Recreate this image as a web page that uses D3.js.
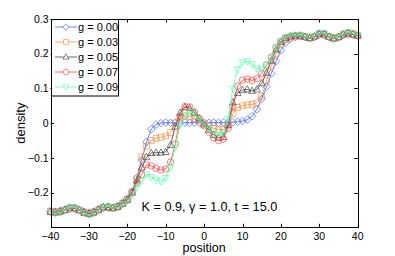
<!DOCTYPE html>
<html><head><meta charset="utf-8">
<script src="https://cdn.jsdelivr.net/npm/d3@7"></script>
<style>body{margin:0;background:#fff}svg{display:block}text{font-family:"Liberation Sans",Arial,Helvetica,sans-serif;fill:#000}</style>
</head><body><svg id="c" width="395" height="256"></svg>
<script>
const position = [-40,-38.75,-37.5,-36.25,-35,-33.75,-32.5,-31.25,-30,-28.75,-27.5,-26.25,-25,-23.75,-22.5,-21.25,-20,-18.75,-17.5,-16.25,-15,-13.75,-12.5,-11.25,-10,-8.75,-7.5,-6.25,-5,-3.75,-2.5,-1.25,0,1.25,2.5,3.75,5,6.25,7.5,8.75,10,11.25,12.5,13.75,15,16.25,17.5,18.75,20,21.25,22.5,23.75,25,26.25,27.5,28.75,30,31.25,32.5,33.75,35,36.25,37.5,38.75,40];
const g000 = [-0.254,-0.255,-0.253,-0.249,-0.246,-0.246,-0.25,-0.255,-0.258,-0.255,-0.249,-0.244,-0.243,-0.244,-0.239,-0.229,
 -0.217,-0.197,-0.158,-0.106,-0.054,-0.017,-0.004,0.0,0.002,0.001,0.002,0.001,0.002,0.001,0.002,0.001,
 0.002,0.001,0.002,0.001,0.002,0.002,0.003,0.004,0.006,0.01,0.02,0.04,0.07,0.105,0.143,0.178,
 0.21,0.232,0.243,0.248,0.25,0.248,0.245,0.248,0.254,0.254,0.248,0.244,0.247,0.253,0.257,0.255,0.251];
const g003 = [-0.253,-0.256,-0.255,-0.25,-0.245,-0.245,-0.25,-0.257,-0.26,-0.256,-0.25,-0.243,-0.242,-0.244,-0.24,-0.231,
 -0.219,-0.199,-0.16,-0.097,-0.066,-0.05,-0.044,-0.041,-0.037,-0.027,0.0,0.016,0.021,0.019,0.013,0.006,
 -0.002,-0.009,-0.015,-0.019,-0.018,-0.006,0.027,0.045,0.05,0.053,0.054,0.058,0.078,0.122,0.165,0.2,
 0.228,0.241,0.247,0.25,0.252,0.249,0.246,0.25,0.257,0.256,0.249,0.245,0.248,0.255,0.259,0.256,0.252];
const g005 = [-0.256,-0.257,-0.254,-0.25,-0.244,-0.245,-0.251,-0.258,-0.261,-0.257,-0.249,-0.242,-0.242,-0.245,-0.241,-0.232,
 -0.221,-0.2,-0.165,-0.128,-0.098,-0.086,-0.085,-0.085,-0.083,-0.063,-0.01,0.03,0.046,0.043,0.03,0.014,
 -0.004,-0.02,-0.034,-0.042,-0.04,-0.005,0.06,0.087,0.095,0.097,0.093,0.097,0.115,0.145,0.18,0.212,
 0.234,0.245,0.25,0.252,0.252,0.249,0.245,0.25,0.258,0.257,0.249,0.244,0.248,0.256,0.26,0.256,0.252];
const g007 = [-0.255,-0.258,-0.256,-0.25,-0.244,-0.244,-0.25,-0.258,-0.262,-0.258,-0.25,-0.242,-0.241,-0.244,-0.242,-0.233,
 -0.222,-0.201,-0.173,-0.148,-0.12,-0.123,-0.13,-0.135,-0.132,-0.112,-0.06,0.02,0.048,0.047,0.032,0.013,
 -0.008,-0.026,-0.042,-0.05,-0.046,-0.015,0.048,0.107,0.124,0.127,0.123,0.128,0.143,0.168,0.19,0.218,
 0.236,0.246,0.25,0.252,0.253,0.249,0.245,0.25,0.258,0.257,0.249,0.244,0.248,0.256,0.26,0.257,0.252];
const g009 = [-0.257,-0.26,-0.257,-0.25,-0.243,-0.243,-0.25,-0.259,-0.264,-0.26,-0.251,-0.242,-0.24,-0.244,-0.243,-0.234,
 -0.224,-0.205,-0.184,-0.165,-0.147,-0.155,-0.164,-0.168,-0.158,-0.128,-0.068,-0.005,0.024,0.033,0.026,0.012,
 -0.004,-0.018,-0.03,-0.034,-0.028,0.012,0.1,0.155,0.175,0.178,0.17,0.158,0.155,0.167,0.188,0.218,
 0.237,0.247,0.252,0.254,0.254,0.25,0.245,0.251,0.26,0.259,0.25,0.243,0.248,0.257,0.262,0.258,0.253];
const seriesLabels = ["g = 0.00","g = 0.03","g = 0.05","g = 0.07","g = 0.09"];
const seriesValues = [g000,g003,g005,g007,g009];
const xTicks = [-40,-30,-20,-10,0,10,20,30,40];
const xTickLabels = ["\u221240","\u221230","\u221220","\u221210","0","10","20","30","40"];
const yTicks = [-0.2,-0.1,0,0.1,0.2,0.3];
const yTickLabels = ["\u22120.2","\u22120.1","0","0.1","0.2","0.3"];
const annotation = "K = 0.9, \u03b3 = 1.0, t = 15.0";

const colors = ["#3358ff","#f28a3a","#3a3a3a","#ff3535","#4dffa6"];
const shapes = ["diamond","square","triUp","circle","triDown"];

function markerPath(type){
  switch(type){
    case "diamond": return "M0,-3.8L3.8,0L0,3.8L-3.8,0Z";
    case "square": return "M-2.9,-2.9H2.9V2.9H-2.9Z";
    case "triUp": return "M0,-3.8L3.4,2.5L-3.4,2.5Z";
    case "triDown": return "M0,3.8L3.4,-2.5L-3.4,-2.5Z";
    case "circle": return "M3.2,0A3.2,3.2 0 1,1 -3.2,0A3.2,3.2 0 1,1 3.2,0Z";
  }
}

const svg = d3.select("#c");
const L=50.5, R=357.7, T=19, B=227.3;
const x = d3.scaleLinear().domain([-40,40]).range([L,R]);
const y = d3.scaleLinear().domain([-0.3,0.3]).range([B,T]);

const plot = svg.append("g");
const line = d3.line().x((d,i)=>x(position[i])).y(d=>y(d));
seriesValues.forEach((vals,k)=>{
  const g = plot.append("g");
  g.append("path").attr("d",line(vals)).attr("fill","none")
    .attr("stroke",colors[k]).attr("stroke-width",1).attr("stroke-opacity",0.75);
  g.selectAll("path.m").data(vals).enter().append("path").attr("class","m")
    .attr("d",markerPath(shapes[k]))
    .attr("transform",(d,i)=>`translate(${x(position[i])},${y(d)})`)
    .attr("fill","none").attr("stroke",colors[k]).attr("stroke-width",0.9).attr("stroke-opacity",0.7);
});

// frame
svg.append("rect").attr("x",Math.round(L)+0.5).attr("y",T+0.5).attr("width",Math.round(R)-Math.round(L)).attr("height",Math.round(B)-T)
  .attr("fill","none").attr("stroke","#000").attr("stroke-width",1);

// ticks
const tk=3.5;
xTicks.forEach((t,i)=>{
  const px = Math.round(x(t))+0.5;
  svg.append("line").attr("x1",px).attr("x2",px).attr("y1",B).attr("y2",B-tk).attr("stroke","#000");
  svg.append("line").attr("x1",px).attr("x2",px).attr("y1",T).attr("y2",T+tk).attr("stroke","#000");
  svg.append("text").attr("x",x(t)).attr("y",239.5).attr("text-anchor","middle").attr("font-size",10.5).text(xTickLabels[i]);
});
yTicks.forEach((t,i)=>{
  const py = Math.round(y(t))+0.5;
  svg.append("line").attr("x1",L).attr("x2",L+tk).attr("y1",py).attr("y2",py).attr("stroke","#000");
  svg.append("line").attr("x1",R).attr("x2",R-tk).attr("y1",py).attr("y2",py).attr("stroke","#000");
  svg.append("text").attr("x",48.5).attr("y",y(t)+3.7).attr("text-anchor","end").attr("font-size",10.5).text(yTickLabels[i]);
});

// axis labels
svg.append("text").attr("x",x(0)).attr("y",251.5).attr("text-anchor","middle").attr("font-size",12.5).text("position");
svg.append("text").attr("transform",`translate(24.5,${y(0)}) rotate(-90)`).attr("text-anchor","middle").attr("font-size",13).text("density");

// annotation
svg.append("text").attr("x",141.5).attr("y",211).attr("font-size",12.7).text(annotation);

// legend
const lg = svg.append("g");
lg.append("rect").attr("x",51.5).attr("y",19.5).attr("width",67).attr("height",76.5).attr("fill","#fff").attr("stroke","#000");
seriesLabels.forEach((s,k)=>{
  const cy = 27 + k*15;
  lg.append("line").attr("x1",55).attr("x2",77).attr("y1",cy).attr("y2",cy).attr("stroke",colors[k]).attr("stroke-opacity",0.75);
  lg.append("path").attr("d",markerPath(shapes[k])).attr("transform",`translate(66,${cy}) scale(0.85)`)
    .attr("fill","#fff").attr("stroke",colors[k]).attr("stroke-opacity",0.8).attr("stroke-width",0.9);
  lg.append("text").attr("x",78).attr("y",cy+4).attr("font-size",11).text(s);
});
</script></body></html>
